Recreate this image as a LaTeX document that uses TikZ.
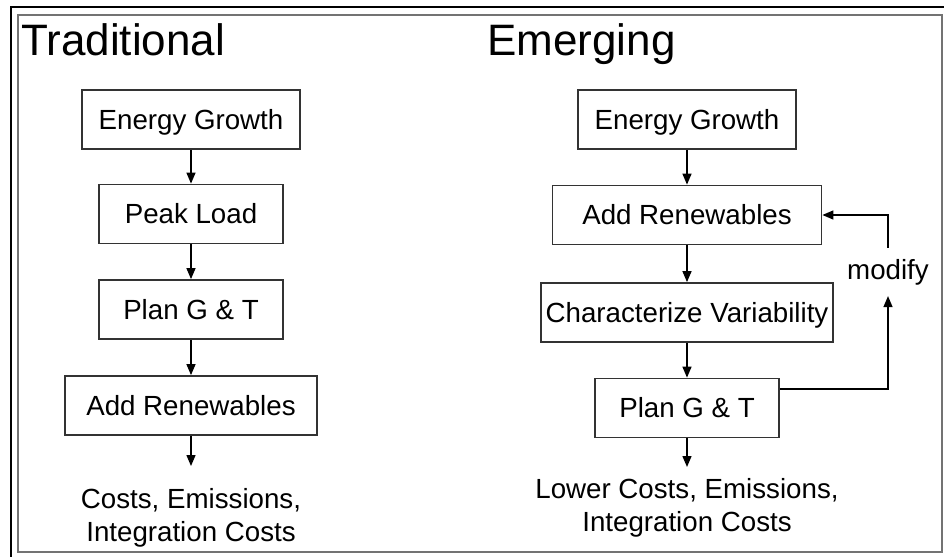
\documentclass[tikz,border=0pt]{standalone}
\usepackage{fontspec}
\setmainfont{Liberation Sans}
\usetikzlibrary{arrows.meta}

\begin{document}
\begin{tikzpicture}[
    x=1pt, y=-1pt,
    font=\fontsize{27.7}{33}\selectfont,
    title/.style={font=\fontsize{44}{50}\selectfont, anchor=base west, inner sep=0pt},
    box/.style={draw=black!80, line width=1.8pt, inner sep=0pt, minimum height=59pt, text height=19pt, text depth=0pt},
    outcome/.style={align=center, anchor=north, inner sep=0pt},
    arr/.style={-{Triangle[length=11pt,width=9pt]}, line width=1.4pt},
]
    \useasboundingbox (0,0) rectangle (944,557);

    % frame
    \draw[line width=1.8pt] (10,7) -- (944,7);
    \draw[line width=1.8pt] (11,7) -- (11,557);
    \draw[black!55, line width=2.5pt] (18,15) rectangle (942,552);

    % ============= Traditional =============
    \node[title] (titleL) at (21,55) {Traditional};
    \node[box, minimum width=218pt] (growL) at (191,119.5) {Energy Growth};
    \node[box, minimum width=184pt] (peak) at (191,214) {Peak Load};
    \node[box, minimum width=184pt] (planL) at (191,309.5) {Plan G \& T};
    \node[box, minimum width=252pt] (renewL) at (191,405.5) {Add Renewables};
    \node[outcome] (costL) at (191,488) {Costs, Emissions,\\Integration Costs};
    \draw[arr] (growL) -- (peak);
    \draw[arr] (peak) -- (planL);
    \draw[arr] (planL) -- (renewL);
    \draw[arr, shorten >=22pt] (renewL) -- (costL);

    % ============= Emerging =============
    \node[title] (titleR) at (487,55) {Emerging};
    \node[box, minimum width=218pt] (growR) at (687,119.5) {Energy Growth};
    \node[box, minimum width=269pt] (renewR) at (687,215) {Add Renewables};
    \node[box, minimum width=292pt] (vary) at (687,312.5) {Characterize Variability};
    \node[box, minimum width=184pt] (planR) at (687,408) {Plan G \& T};
    \node[outcome] (costR) at (687,478) {Lower Costs, Emissions,\\Integration Costs};
    \draw[arr] (growR) -- (renewR);
    \draw[arr] (renewR) -- (vary);
    \draw[arr] (vary) -- (planR);
    \draw[arr, shorten >=11pt] (planR) -- (costR);

    % feedback loop
    \node[inner sep=11pt] (modify) at (888,272) {modify};
    \draw[arr] ([yshift=19pt]planR.east) -| (modify.south);
    \draw[arr] (modify.north) |- (renewR.east);
\end{tikzpicture}
\end{document}
